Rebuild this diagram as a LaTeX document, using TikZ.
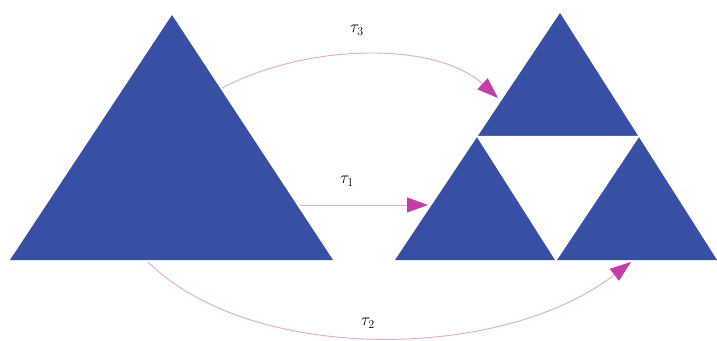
\documentclass[tikz,border=0pt]{standalone}
\usetikzlibrary{arrows.meta}
\definecolor{triblue}{RGB}{56,80,164}
\definecolor{arrmag}{RGB}{196,62,168}
\definecolor{linepink}{RGB}{222,170,200}
\begin{document}
\begin{tikzpicture}[x=1pt,y=-1pt,
  tri/.style={fill=triblue},
  hole/.style={fill=white,draw=white,line width=1.5pt},
  map/.style={draw=linepink,line width=0.9pt,
    -{Triangle[length=21pt,width=15pt,fill=arrmag,color=arrmag]}},
  lab/.style={font=\fontsize{18}{20}\selectfont,inner sep=0pt}]
\useasboundingbox (0,0) rectangle (717,340);
% left triangle
\coordinate (LA) at (172,15);
\coordinate (LL) at (10,260);
\coordinate (LR) at (333,260);
\fill[tri] (LA) -- (LL) -- (LR) -- cycle;
% right triangle (Sierpinski step)
\coordinate (RA) at (560,13);
\coordinate (RL) at (395,260);
\coordinate (RR) at (717,260);
\fill[tri] (RA) -- (RL) -- (RR) -- cycle;
\coordinate (M1) at (477.5,136.5);
\coordinate (M2) at (638.5,136.5);
\coordinate (M3) at (556,260);
\filldraw[hole] (M1) -- (M2) -- (M3) -- cycle;
% connector end points
\coordinate (s3) at (222,88);
\coordinate (e3) at (498,98);
\coordinate (s1) at (300,205);
\coordinate (e1) at (428,205);
\coordinate (s2) at (148,262);
\coordinate (e2) at (631,262);
\draw[map] (s3) .. controls (310,42) and (437,42) .. (e3);
\draw[map] (s1) -- (e1);
\draw[map] (s2) .. controls (250,363) and (500,363) .. (e2);
% labels
\node[lab] (t3) at (357,30) {$\tau_3$};
\node[lab] (t1) at (347,181) {$\tau_1$};
\node[lab] (t2) at (368,323) {$\tau_2$};
\end{tikzpicture}
\end{document}
